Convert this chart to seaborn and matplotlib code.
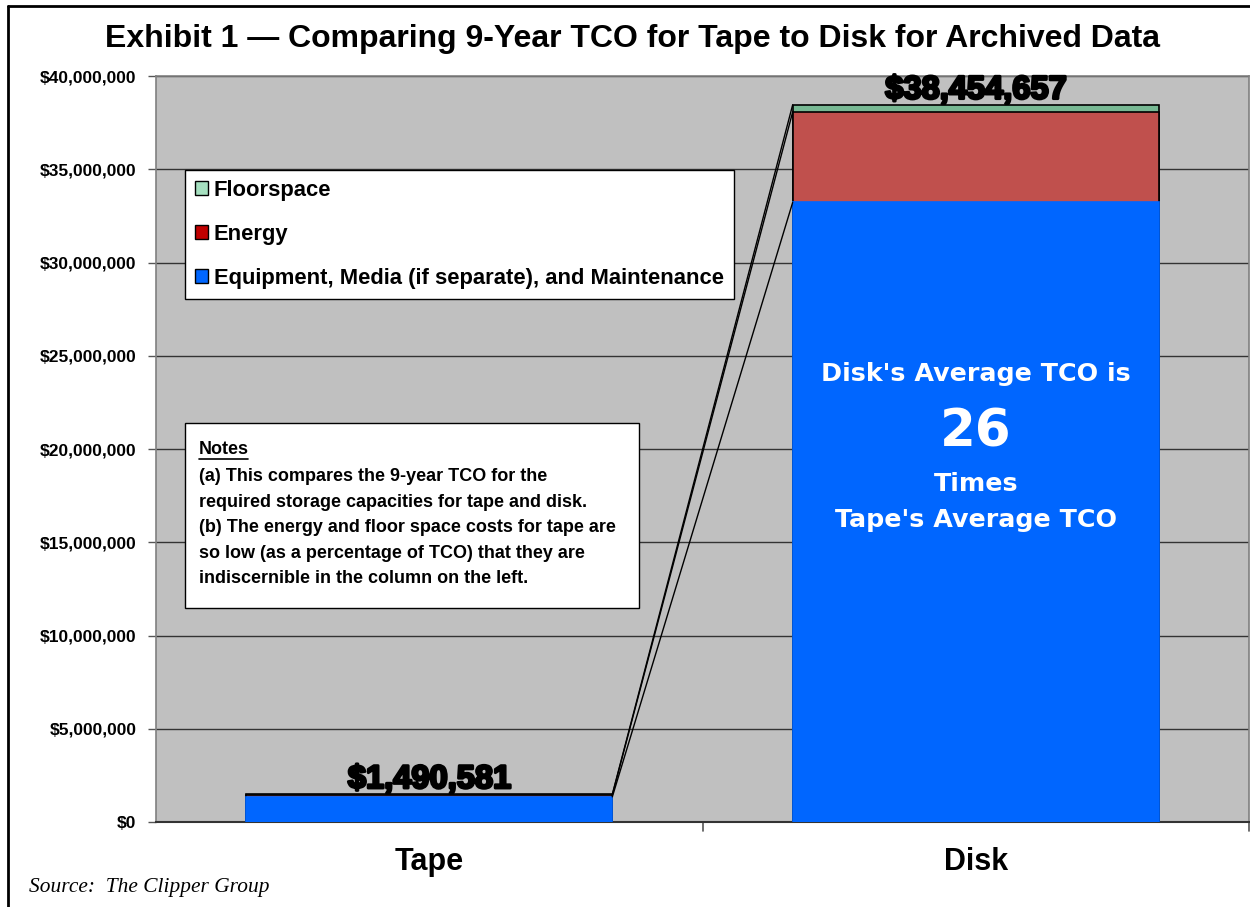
import numpy as np
import pandas as pd
import matplotlib
matplotlib.use("Agg")
import matplotlib.pyplot as plt
import matplotlib.patheffects as pe
from matplotlib.patches import Patch, Rectangle
from matplotlib.ticker import FuncFormatter
import seaborn as sns

# Data (9-year TCO, dollars)
storage = ["Tape", "Disk"]
equipment = [1350000, 33220000]
energy = [110000, 4850000]
floorspace = [30581, 384657]
totals = [1490581, 38454657]
series_names = ["Equipment, Media (if separate), and Maintenance", "Energy", "Floorspace"]
series_colors = ["#0066FF", "#C0504D", "#77B893"]
legend_colors = ["#0066FF", "#C00000", "#A6E0C0"]
y_ticks = list(range(0, 40000001, 5000000))
note_lines = ["(a) This compares the 9-year TCO for the",
              "required storage capacities for tape and disk.",
              "(b) The energy and floor space costs for tape are",
              "so low (as a percentage of TCO) that they are",
              "indiscernible in the column on the left."]

df = pd.DataFrame({"Storage": storage, "Equipment": equipment,
                   "Energy": energy, "Floorspace": floorspace})
df["cum1"] = df["Equipment"]
df["cum2"] = df["cum1"] + df["Energy"]
df["cum3"] = df["cum2"] + df["Floorspace"]

sns.set_theme(style="white")
plt.rcParams["font.family"] = ["Liberation Sans", "DejaVu Sans"]
plt.rcParams["text.color"] = "black"
plt.rcParams["xtick.color"] = "black"
plt.rcParams["ytick.color"] = "black"
plt.rcParams["axes.labelcolor"] = "black"

fig = plt.figure(figsize=(12.5, 9.07), dpi=100)
ax = fig.add_axes([0.1248, 0.0937, 0.8744, 0.8225])
ax.set_facecolor("#C0C0C0")

# stacked bars: draw tallest cumulative first, then overlay lower segments
for col, color in zip(["cum3", "cum2", "cum1"], series_colors[::-1]):
    sns.barplot(data=df, x="Storage", y=col, color=color, width=0.67,
                edgecolor="black" if col != "cum1" else color,
                linewidth=1.2, saturation=1, ax=ax, zorder=3)

ax.set_ylim(0, 40000000)
ax.set_xlim(-0.5, 1.5)
ax.set_yticks(y_ticks)
ax.yaxis.set_major_formatter(FuncFormatter(lambda v, p: "${:,.0f}".format(v)))
ax.grid(axis="y", color="#333333", linewidth=1.0, zorder=1)
ax.set_axisbelow(True)
for lab in ax.get_yticklabels():
    lab.set_fontweight("bold")
    lab.set_fontsize(12.5)
ax.tick_params(axis="y", length=6, width=1, color="#555555", pad=8, left=True)
ax.tick_params(axis="x", length=0, pad=18)
ax.set_xticks([0, 1])
ax.set_xticklabels(storage, fontsize=22, fontweight="bold")
ax.set_xlabel("")
ax.set_ylabel("")
# category boundary ticks
for xb in [0.5, 1.5]:
    ax.plot([xb, xb], [0, -0.012], transform=ax.get_xaxis_transform(),
            color="#555555", lw=1.2, clip_on=False)
for side in ["top", "right", "left"]:
    ax.spines[side].set_color("#808080")
    ax.spines[side].set_linewidth(1.2)
ax.spines["bottom"].set_color("#333333")
ax.spines["bottom"].set_linewidth(1.5)

# series lines from the tape column to the disk column
half = 0.67 / 2
for col in ["cum1", "cum2", "cum3"]:
    ax.plot([0 + half, 1 - half], df[col].values, color="black", lw=1.0, zorder=4)

# total labels
fat = [pe.withStroke(linewidth=2.0, foreground="black")]
for i, tot in enumerate(totals):
    ax.text(i, tot + 330000, "${:,.0f}".format(tot), ha="center", va="baseline",
            fontsize=23.5, fontweight="bold", color="black", path_effects=fat, zorder=5)

# text inside the disk column
inner = dict(ha="center", va="center", color="white", fontweight="bold",
             family="DejaVu Sans", zorder=5)
ax.text(1, 24000000, "Disk's Average TCO is", fontsize=18.3, **inner)
ax.text(1, 20900000, "26", fontsize=37, **inner)
ax.text(1, 18120000, "Times", fontsize=18.3, **inner)
ax.text(1, 16190000, "Tape's Average TCO", fontsize=18.3, **inner)

# legend
handles = [Patch(facecolor=c, edgecolor="black", linewidth=1) for c in legend_colors[::-1]]
leg = ax.legend(handles, series_names[::-1], loc="upper left",
                bbox_to_anchor=(0.0265, 0.874), borderaxespad=0, frameon=True,
                fancybox=False, edgecolor="black", framealpha=1,
                handlelength=0.6, handleheight=0.6, handletextpad=0.25,
                labelspacing=1.04, borderpad=0.46,
                prop={"weight": "bold", "size": 15.8})
leg.get_frame().set_linewidth(1.0)
leg.set_zorder(6)

# notes box
ax.add_patch(Rectangle((0.0265, 0.287), 0.4155, 0.248, transform=ax.transAxes,
                       facecolor="white", edgecolor="black", lw=1.0, zorder=6))
ax.text(0.0393, 0.4987, "Notes", transform=ax.transAxes, ha="left", va="center",
        fontsize=13, fontweight="bold", zorder=7)
ax.plot([0.0393, 0.0845], [0.4866, 0.4866], transform=ax.transAxes,
        color="black", lw=1.2, zorder=7)
for k, line in enumerate(note_lines):
    ax.text(0.0393, 0.4625 - 0.0340 * k, line, transform=ax.transAxes, ha="left",
            va="center", fontsize=13, fontweight="bold", zorder=7)

# title, source, outer frame
fig.text(0.506, 0.957, "Exhibit 1 \u2014 Comparing 9-Year TCO for Tape to Disk for Archived Data",
         ha="center", va="center", fontsize=23, fontweight="bold")
fig.text(0.023, 0.021, "Source:  The Clipper Group", ha="left", va="center",
         fontsize=15.4, style="italic", family="Liberation Serif")
fig.add_artist(plt.Line2D([0.0065, 0.0065], [0, 0.9935], color="black", lw=2))
fig.add_artist(plt.Line2D([0.0065, 1], [0.9935, 0.9935], color="black", lw=2))

fig.savefig("out.png", dpi=100)
